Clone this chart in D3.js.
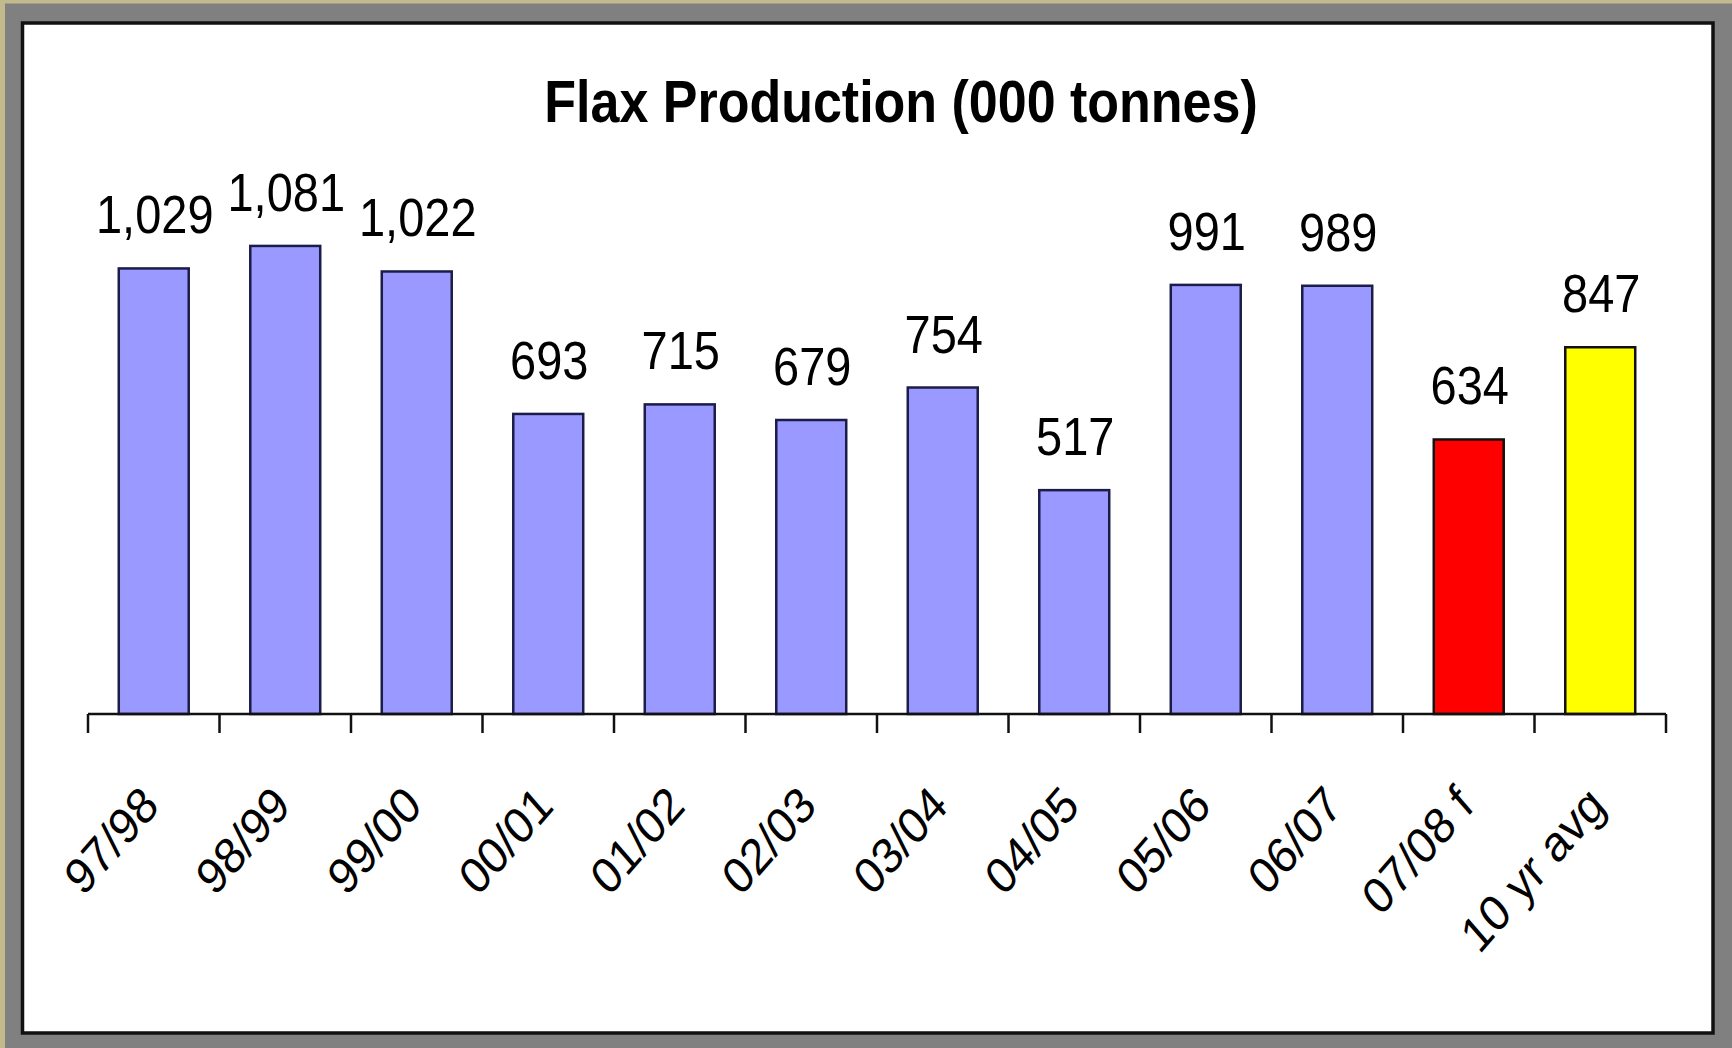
<!DOCTYPE html>
<html>
<head>
<meta charset="utf-8">
<script src="https://cdn.jsdelivr.net/npm/d3@7"></script>
<style>
  html, body { margin: 0; padding: 0; background: #ffffff; }
  svg { display: block; }
  text { font-family: "Liberation Sans", Arial, Helvetica, sans-serif; }
</style>
</head>
<body>
<svg id="chart" width="1732" height="1048"></svg>
<script>
const title = "Flax Production (000 tonnes)";
const categories = ["97/98", "98/99", "99/00", "00/01", "01/02", "02/03", "03/04", "04/05", "05/06", "06/07", "07/08 f", "10 yr avg"];
const values = [1029, 1081, 1022, 693, 715, 679, 754, 517, 991, 989, 634, 847];
const valueLabels = ["1,029", "1,081", "1,022", "693", "715", "679", "754", "517", "991", "989", "634", "847"];
const barFills = ["#9999FF", "#9999FF", "#9999FF", "#9999FF", "#9999FF", "#9999FF", "#9999FF", "#9999FF", "#9999FF", "#9999FF", "#FF0000", "#FFFF00"];
const barStrokes = ["#1c1c48", "#1c1c48", "#1c1c48", "#1c1c48", "#1c1c48", "#1c1c48", "#1c1c48", "#1c1c48", "#1c1c48", "#1c1c48", "#111111", "#111111"];

const svg = d3.select("#chart");
const W = 1732, H = 1048;

// frame
svg.append("rect").attr("x", 0).attr("y", 0).attr("width", W).attr("height", H).attr("fill", "#c2ba8c");
svg.append("rect").attr("x", 5).attr("y", 3.5).attr("width", W - 5).attr("height", H - 3.5).attr("fill", "#808080");
svg.append("rect").attr("x", 22.5).attr("y", 23).attr("width", 1690.5).attr("height", 1010)
  .attr("fill", "#ffffff").attr("stroke", "#111111").attr("stroke-width", 3.5);

const x0 = 88, x1 = 1666, baseY = 714;
const pad = 0.468;
const x = d3.scaleBand().domain(categories).range([x0, x1]).paddingInner(pad).paddingOuter(pad / 2);
const y = d3.scaleLinear().domain([0, 1200]).range([baseY, baseY - 519.6]);

// title
svg.append("text")
  .attr("transform", `translate(901,121.5) scale(1,1.155)`)
  .attr("text-anchor", "middle")
  .attr("font-size", 52).attr("font-weight", "bold").attr("fill", "#000")
  .text(title);

// bars
const data = categories.map((c, i) => ({ c, v: values[i], lab: valueLabels[i], fill: barFills[i], stroke: barStrokes[i] }));
svg.append("g").selectAll("rect").data(data).join("rect")
  .attr("x", d => x(d.c))
  .attr("y", d => y(d.v))
  .attr("width", x.bandwidth())
  .attr("height", d => y(0) - y(d.v))
  .attr("fill", d => d.fill)
  .attr("stroke", d => d.stroke)
  .attr("stroke-width", 2.5);

// value labels
svg.append("g").selectAll("text").data(data).join("text")
  .attr("transform", d => `translate(${x(d.c) + x.bandwidth() / 2 + 1},${y(d.v) - 35}) scale(1,1.15)`)
  .attr("text-anchor", "middle")
  .attr("font-size", 47).attr("fill", "#000")
  .text(d => d.lab);

// axis labels via d3 axis
const axisG = svg.append("g").attr("transform", `translate(0,${baseY})`)
  .call(d3.axisBottom(x).tickSize(0).tickPadding(0));
axisG.select(".domain").remove();
axisG.selectAll("text")
  .attr("y", null).attr("dy", null)
  .attr("font-size", 44).attr("fill", "#000")
  .attr("font-family", '"Liberation Sans", Arial, Helvetica, sans-serif')
  .attr("text-anchor", "end")
  .attr("transform", "translate(7,94) scale(1,1.15) rotate(-45)");

// axis line and boundary ticks
const step = x.step();
const bounds = d3.range(categories.length + 1).map(i => x0 + i * step);
svg.append("line").attr("x1", x0).attr("x2", x1).attr("y1", baseY).attr("y2", baseY)
  .attr("stroke", "#111").attr("stroke-width", 2.5);
svg.append("g").selectAll("line").data(bounds).join("line")
  .attr("x1", d => d).attr("x2", d => d)
  .attr("y1", baseY).attr("y2", baseY + 19)
  .attr("stroke", "#111").attr("stroke-width", 2.5);
</script>
</body>
</html>
